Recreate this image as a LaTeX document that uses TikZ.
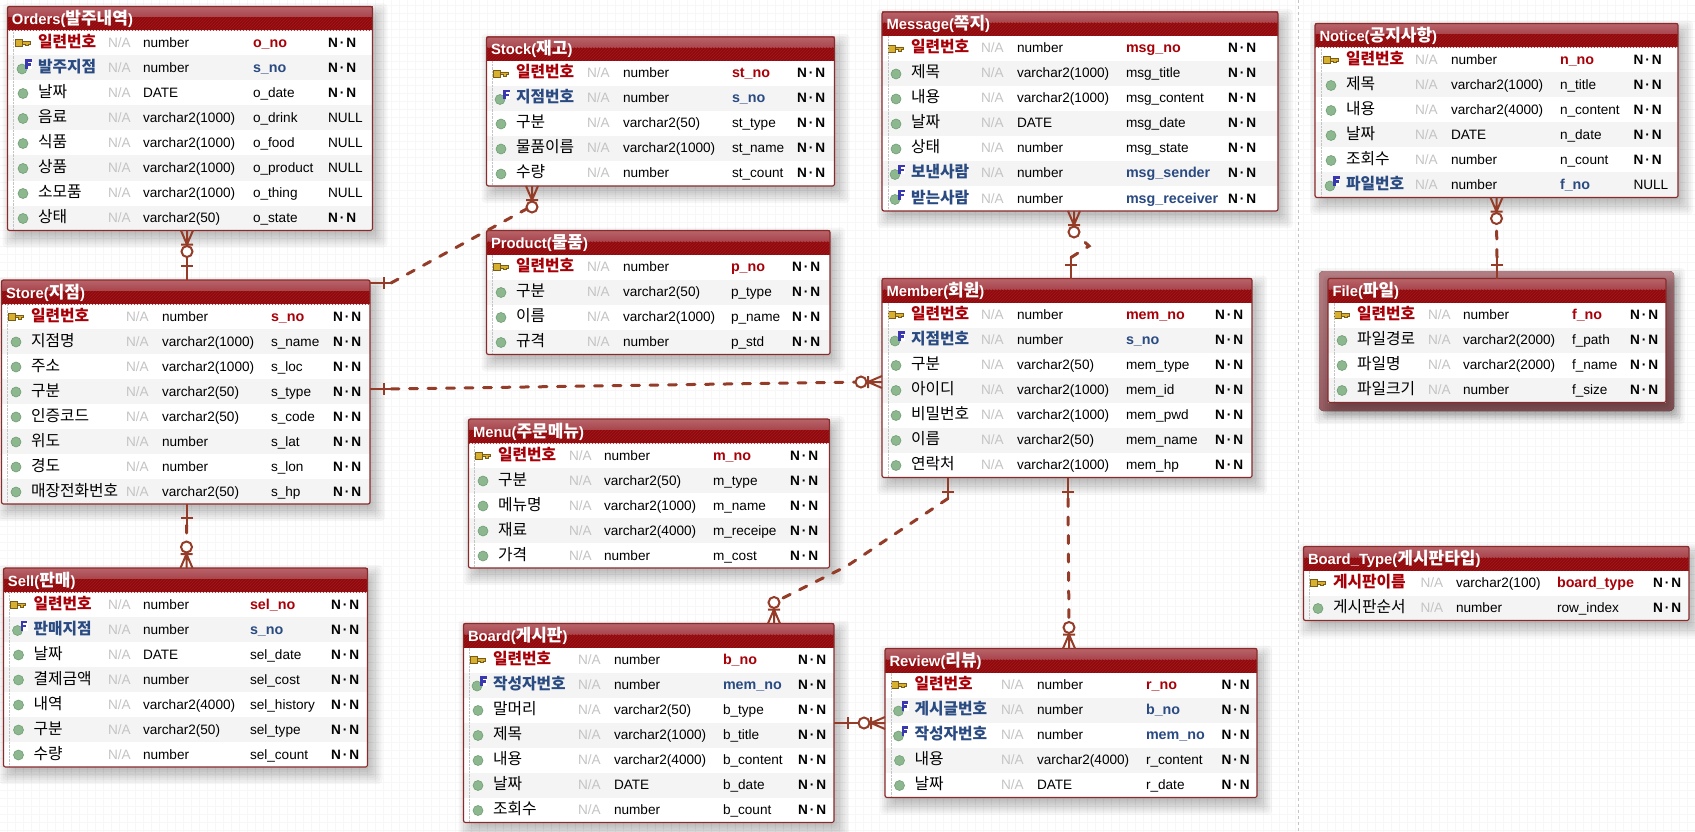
\documentclass[tikz,border=0pt]{standalone}
\usepackage{fontspec}
\setmainfont{Liberation Sans}
\newfontfamily\cjkfont{Noto Sans CJK KR}
\usetikzlibrary{patterns}

\definecolor{frameline}{HTML}{8A2B2B}
\definecolor{titledark}{HTML}{8E0A0C}
\definecolor{titlestripe}{HTML}{A5181C}
\definecolor{titletop}{HTML}{B8646A}
\definecolor{titlemid}{HTML}{A8444C}
\definecolor{rowgrey}{HTML}{F4F4F4}
\definecolor{paperline}{HTML}{F7F7F7}
\definecolor{keyred}{HTML}{A80008}
\definecolor{fkblue}{HTML}{2A4A82}
\definecolor{nagrey}{HTML}{C4C4C4}
\definecolor{relbrown}{HTML}{943C28}
\definecolor{dotgreen}{HTML}{8DB88F}
\definecolor{dotedge}{HTML}{6F9F74}
\definecolor{keygold}{HTML}{D8B030}
\definecolor{keyedge}{HTML}{7A5C18}
\definecolor{fmark}{HTML}{3A38B0}
\definecolor{selcolor}{HTML}{A5666C}

\newcommand{\kr}[1]{{\cjkfont\fontsize{15.8}{16}\selectfont #1}}
\newcommand{\krt}[1]{{\cjkfont\fontsize{17}{17}\selectfont #1}}

\tikzset{
  every node/.style={inner sep=0pt, outer sep=0pt, font=\fontsize{13.6}{16}\selectfont},
  cell/.style={anchor=base west},
  keyname/.style={cell, text=keyred, font=\fontsize{13.6}{16}\selectfont\bfseries},
  fkname/.style={cell, text=fkblue, font=\fontsize{13.6}{16}\selectfont\bfseries},
  colname/.style={cell},
  keycol/.style={keyname, font=\fontsize{14.3}{16}\selectfont\bfseries},
  fkcol/.style={fkname, font=\fontsize{14.3}{16}\selectfont\bfseries},
  colcol/.style={cell},
  nacell/.style={cell, text=nagrey},
  nullcell/.style={cell},
  nncell/.style={cell, font=\fontsize{13.6}{16}\selectfont\bfseries},
  titletext/.style={anchor=base west, text=white, font=\fontsize{14.8}{17}\selectfont\bfseries},
  tableframe/.style={draw=frameline, line width=1.2pt, rounded corners=2pt, anchor=north west},
  relsolid/.style={draw=relbrown, line width=2pt},
  reldash/.style={draw=relbrown, line width=3pt, line cap=round, dash pattern=on 8pt off 10.5pt},
  relcircle/.style={circle, draw=relbrown, line width=2pt, fill=white, minimum size=11pt},
}

\newcount\rowno
\newcommand{\colx}[5]{\def\xname{#1}\def\xna{#2}\def\xtype{#3}\def\xcol{#4}\def\xnull{#5}}

% table head: name, x, y, width, rows, title
\newcommand{\dbtable}[6]{
  \def\tblname{#1}\def\tblx{#2}\def\tbly{#3}\def\tblw{#4}\def\tblr{#5}
  \pgfmathsetmacro{\tblh}{24+25*#5}
  \foreach \k in {-4,-2,...,10}
    \fill[black, opacity=.035, rounded corners=4pt] (#2+5-\k,#3+7-\k) rectangle (#2+#4+5+\k,#3+\tblh+7+\k);
  \fill[white] (#2,#3) rectangle (#2+#4,#3+\tblh);
  \fill[top color=titletop, bottom color=titlemid] (#2,#3) rectangle (#2+#4,#3+11);
  \fill[titledark] (#2,#3+11) rectangle (#2+#4,#3+24);
  \fill[pattern=north east lines, pattern color=titlestripe] (#2,#3+11) rectangle (#2+#4,#3+24);
  \node (#1-title) [titletext] at (#2+4.5,#3+18) {#6};
  \global\rowno=0
}

% one row: key/fk/col, name, type, column, null
\newcommand{\dbrow}[5]{
  \global\advance\rowno by 1
  \pgfmathsetmacro{\rowy}{\tbly+24+25*(\the\rowno-1)+12.5}
  \ifodd\rowno\else
    \fill[rowgrey] (\tblx,\rowy-12.5) rectangle (\tblx+\tblw,\rowy+12.5);
  \fi
  \csname icon#1\endcsname{\xname-23}{\rowy}
  \node (\tblname-r\the\rowno-a) [#1name] at (\xname,\rowy+4.5) {\kr{#2}};
  \node (\tblname-r\the\rowno-b) [nacell] at (\xna,\rowy+4.5) {N/A};
  \node (\tblname-r\the\rowno-c) [colname] at (\xtype,\rowy+4.5) {#3};
  \node (\tblname-r\the\rowno-d) [#1col] at (\xcol,\rowy+4.5) {#4};
  \ifx&#5&
    \node (\tblname-r\the\rowno-e) [nncell] at (\xnull,\rowy+4.5) {N\hspace{2pt}·\hspace{2pt}N};
  \else
    \node (\tblname-r\the\rowno-e) [nullcell] at (\xnull,\rowy+4.5) {#5};
  \fi
}

% table end: dotted rule and frame, the node that connectors use
\newcommand{\dbend}{
  \draw[nagrey, densely dotted] (\tblx+6,\tbly+24) -- (\tblx+6,\tbly+\tblh);
  \node (\tblname) [tableframe, minimum width=\tblw pt, minimum height=\tblh pt] at (\tblx,\tbly) {};
}

% row icons
\newcommand{\iconcol}[2]{
  \fill[dotgreen, draw=dotedge, line width=.6pt] (#1+8,#2+.5) circle (5);
}
\newcommand{\iconkey}[2]{
  \fill[keygold, draw=keyedge, line width=.8pt] (#1,#2-3.5) rectangle (#1+7,#2+3.5);
  \fill[keygold, draw=keyedge, line width=.8pt] (#1+7,#2-1.5) -- (#1+15,#2-1.5) -- (#1+15,#2+1) -- (#1+13,#2+1) -- (#1+13,#2+2.5) -- (#1+10,#2+2.5) -- (#1+10,#2+1) -- (#1+7,#2+1) -- cycle;
}
\newcommand{\iconfk}[2]{
  \fill[dotgreen, draw=dotedge, line width=.6pt] (#1+7,#2+1) circle (5);
  \fill[white] (#1+10,#2-8) rectangle (#1+17,#2+1);
  \draw[fmark, line width=2.2pt] (#1+11.5,#2+1) -- (#1+11.5,#2-7.5) -- (#1+16.5,#2-7.5) (#1+11.5,#2-3.5) -- (#1+15.5,#2-3.5);
}

% ends of a relation, drawn from a point on a table edge
\newcommand{\oneend}[3]{
  \begin{scope}[shift={(#1)},rotate=#2]
    \draw[relsolid] (0,0) -- (21,0) (14,-6) -- (14,6);
    \coordinate (#3) at (21,0);
  \end{scope}
}
\newcommand{\manyend}[3]{
  \begin{scope}[shift={(#1)},rotate=#2]
    \draw[relsolid] (14,0) -- (0,-6) (14,0) -- (0,0) (14,0) -- (0,6) (14,-6) -- (14,6);
    \node (#3) [relcircle] at (21,0) {};
  \end{scope}
}

\begin{document}
\begin{tikzpicture}[x=1pt,y=-1pt]
\useasboundingbox (0,0) rectangle (1695,832);

% paper
\foreach \i in {0,...,211}
  \draw[paperline, line width=1pt] (7+8*\i,0) -- (7+8*\i,832);
\foreach \j in {0,...,103}
  \draw[paperline, line width=1pt] (0,6+8*\j) -- (1695,6+8*\j);
\draw[nagrey, line width=1pt, dashed] (1298,0) -- (1298,832);

% left column
\colx{38}{108}{143}{253}{328}
\dbtable{Orders}{7.5}{6.5}{365}{8}{Orders(\krt{발주내역})}
\dbrow{key}{일련번호}{number}{o\_no}{}
\dbrow{fk}{발주지점}{number}{s\_no}{}
\dbrow{col}{날짜}{DATE}{o\_date}{}
\dbrow{col}{음료}{varchar2(1000)}{o\_drink}{NULL}
\dbrow{col}{식품}{varchar2(1000)}{o\_food}{NULL}
\dbrow{col}{상품}{varchar2(1000)}{o\_product}{NULL}
\dbrow{col}{소모품}{varchar2(1000)}{o\_thing}{NULL}
\dbrow{col}{상태}{varchar2(50)}{o\_state}{}
\dbend

\colx{31}{126}{162}{271}{333}
\dbtable{Store}{1.5}{280}{368.5}{8}{Store(\krt{지점})}
\dbrow{key}{일련번호}{number}{s\_no}{}
\dbrow{col}{지점명}{varchar2(1000)}{s\_name}{}
\dbrow{col}{주소}{varchar2(1000)}{s\_loc}{}
\dbrow{col}{구분}{varchar2(50)}{s\_type}{}
\dbrow{col}{인증코드}{varchar2(50)}{s\_code}{}
\dbrow{col}{위도}{number}{s\_lat}{}
\dbrow{col}{경도}{number}{s\_lon}{}
\dbrow{col}{매장전화번호}{varchar2(50)}{s\_hp}{}
\dbend

\colx{33.5}{108}{143}{250}{331}
\dbtable{Sell}{3.5}{568}{364}{7}{Sell(\krt{판매})}
\dbrow{key}{일련번호}{number}{sel\_no}{}
\dbrow{fk}{판매지점}{number}{s\_no}{}
\dbrow{col}{날짜}{DATE}{sel\_date}{}
\dbrow{col}{결제금액}{number}{sel\_cost}{}
\dbrow{col}{내역}{varchar2(4000)}{sel\_history}{}
\dbrow{col}{구분}{varchar2(50)}{sel\_type}{}
\dbrow{col}{수량}{number}{sel\_count}{}
\dbend

% middle column
\colx{516}{587}{623}{732}{797}
\dbtable{Stock}{486.5}{37}{348}{5}{Stock(\krt{재고})}
\dbrow{key}{일련번호}{number}{st\_no}{}
\dbrow{fk}{지점번호}{number}{s\_no}{}
\dbrow{col}{구분}{varchar2(50)}{st\_type}{}
\dbrow{col}{물품이름}{varchar2(1000)}{st\_name}{}
\dbrow{col}{수량}{number}{st\_count}{}
\dbend

\colx{516}{587}{623}{731}{792}
\dbtable{Product}{486.5}{230.5}{343.5}{4}{Product(\krt{물품})}
\dbrow{key}{일련번호}{number}{p\_no}{}
\dbrow{col}{구분}{varchar2(50)}{p\_type}{}
\dbrow{col}{이름}{varchar2(1000)}{p\_name}{}
\dbrow{col}{규격}{number}{p\_std}{}
\dbend

\colx{498}{569}{604}{713}{790}
\dbtable{Menu}{468.5}{419}{361}{5}{Menu(\krt{주문메뉴})}
\dbrow{key}{일련번호}{number}{m\_no}{}
\dbrow{col}{구분}{varchar2(50)}{m\_type}{}
\dbrow{col}{메뉴명}{varchar2(1000)}{m\_name}{}
\dbrow{col}{재료}{varchar2(4000)}{m\_receipe}{}
\dbrow{col}{가격}{number}{m\_cost}{}
\dbend

\colx{493}{578}{614}{723}{798}
\dbtable{Board}{463.5}{623.5}{370.5}{7}{Board(\krt{게시판})}
\dbrow{key}{일련번호}{number}{b\_no}{}
\dbrow{fk}{작성자번호}{number}{mem\_no}{}
\dbrow{col}{말머리}{varchar2(50)}{b\_type}{}
\dbrow{col}{제목}{varchar2(1000)}{b\_title}{}
\dbrow{col}{내용}{varchar2(4000)}{b\_content}{}
\dbrow{col}{날짜}{DATE}{b\_date}{}
\dbrow{col}{조회수}{number}{b\_count}{}
\dbend

% right of the middle
\colx{911}{981}{1017}{1126}{1228}
\dbtable{Message}{882}{12}{396}{7}{Message(\krt{쪽지})}
\dbrow{key}{일련번호}{number}{msg\_no}{}
\dbrow{col}{제목}{varchar2(1000)}{msg\_title}{}
\dbrow{col}{내용}{varchar2(1000)}{msg\_content}{}
\dbrow{col}{날짜}{DATE}{msg\_date}{}
\dbrow{col}{상태}{number}{msg\_state}{}
\dbrow{fk}{보낸사람}{number}{msg\_sender}{}
\dbrow{fk}{받는사람}{number}{msg\_receiver}{}
\dbend

\colx{911}{981}{1017}{1126}{1215}
\dbtable{Member}{882}{278.5}{370}{7}{Member(\krt{회원})}
\dbrow{key}{일련번호}{number}{mem\_no}{}
\dbrow{fk}{지점번호}{number}{s\_no}{}
\dbrow{col}{구분}{varchar2(50)}{mem\_type}{}
\dbrow{col}{아이디}{varchar2(1000)}{mem\_id}{}
\dbrow{col}{비밀번호}{varchar2(1000)}{mem\_pwd}{}
\dbrow{col}{이름}{varchar2(50)}{mem\_name}{}
\dbrow{col}{연락처}{varchar2(1000)}{mem\_hp}{}
\dbend

\colx{914.5}{1001}{1037}{1146}{1221.5}
\dbtable{Review}{885}{648.5}{372}{5}{Review(\krt{리뷰})}
\dbrow{key}{일련번호}{number}{r\_no}{}
\dbrow{fk}{게시글번호}{number}{b\_no}{}
\dbrow{fk}{작성자번호}{number}{mem\_no}{}
\dbrow{col}{내용}{varchar2(4000)}{r\_content}{}
\dbrow{col}{날짜}{DATE}{r\_date}{}
\dbend

% right column
\colx{1346}{1415}{1451}{1560}{1633.5}
\dbtable{Notice}{1315}{23.5}{363}{6}{Notice(\krt{공지사항})}
\dbrow{key}{일련번호}{number}{n\_no}{}
\dbrow{col}{제목}{varchar2(1000)}{n\_title}{}
\dbrow{col}{내용}{varchar2(4000)}{n\_content}{}
\dbrow{col}{날짜}{DATE}{n\_date}{}
\dbrow{col}{조회수}{number}{n\_count}{}
\dbrow{fk}{파일번호}{number}{f\_no}{NULL}
\dbend

% the selected table
\foreach \k in {-4,-2,...,8}
  \fill[black, opacity=.035, rounded corners=4pt] (1322-\k,276-\k) rectangle (1677+\k,416+\k);
\fill[top color=selcolor!85!white, bottom color=selcolor!90!black, rounded corners=4pt] (1319,271) rectangle (1674,411);
\colx{1357}{1428}{1463}{1572}{1630}
\dbtable{File}{1328}{278.5}{338}{4}{File(\krt{파일})}
\dbrow{key}{일련번호}{number}{f\_no}{}
\dbrow{col}{파일경로}{varchar2(2000)}{f\_path}{}
\dbrow{col}{파일명}{varchar2(2000)}{f\_name}{}
\dbrow{col}{파일크기}{number}{f\_size}{}
\dbend

\colx{1333}{1420.5}{1456}{1557}{1653}
\dbtable{BoardType}{1303.5}{546.5}{385.5}{2}{Board\_Type(\krt{게시판타입})}
\dbrow{key}{게시판이름}{varchar2(100)}{board\_type}{}
\dbrow{col}{게시판순서}{number}{row\_index}{}
\dbend

% edge points of the relations
\coordinate (orders-s) at ([xshift=-3pt]Orders.south);
\coordinate (store-n) at ([xshift=1pt]Store.north);
\coordinate (store-e1) at ([yshift=-3pt]Store.north east);
\coordinate (stock-s) at ([xshift=-302.5pt]Stock.south east);
\coordinate (store-e2) at ([yshift=-109pt]Store.north east);
\coordinate (member-w) at ([yshift=-103.5pt]Member.north west);
\coordinate (store-s) at ([xshift=1pt]Store.south);
\coordinate (sell-n) at ([xshift=1pt]Sell.north);
\coordinate (message-s) at ([xshift=-6pt]Message.south);
\coordinate (member-n) at ([xshift=4pt]Member.north);
\coordinate (notice-s) at (Notice.south);
\coordinate (file-n) at (File.north);
\coordinate (member-s1) at ([xshift=66pt]Member.south west);
\coordinate (board-n) at ([xshift=-60pt]Board.north east);
\coordinate (member-s2) at ([xshift=186pt]Member.south west);
\coordinate (review-n) at ([xshift=184pt]Review.north west);
\coordinate (board-e) at ([yshift=-99.5pt]Board.north east);
\coordinate (review-w) at ([yshift=-74.5pt]Review.north west);
\coordinate (bend1) at (1089,246);
\coordinate (bend2) at (847,566);

% relations
\oneend{store-n}{90}{d1}
\draw[relsolid] (d1) -- ([yshift=-21pt]orders-s);
\manyend{orders-s}{-90}{c1}

\oneend{store-e1}{0}{d2}
\draw[reldash] (d2) -- ([yshift=-20pt]stock-s);
\manyend{stock-s}{-90}{c2}

\oneend{store-e2}{0}{d3}
\draw[reldash] (d3) -- ([xshift=-22pt]member-w);
\manyend{member-w}{180}{c3}

\oneend{store-s}{-90}{d4}
\draw[reldash] (d4) -- ([yshift=21pt]sell-n);
\manyend{sell-n}{90}{c4}

\oneend{member-n}{90}{d5}
\draw[reldash] (d5) -- (bend1) -- ([yshift=-21pt]message-s);
\manyend{message-s}{-90}{c5}

\oneend{file-n}{90}{d6}
\draw[reldash] (d6) -- ([yshift=-21pt]notice-s);
\manyend{notice-s}{-90}{c6}

\oneend{member-s1}{-90}{d7}
\draw[reldash] (d7) -- (bend2) -- ([yshift=21pt]board-n);
\manyend{board-n}{90}{c7}

\oneend{member-s2}{-90}{d8}
\draw[reldash] (d8) -- ([yshift=21pt]review-n);
\manyend{review-n}{90}{c8}

\oneend{board-e}{0}{d9}
\draw[relsolid] (d9) -- ([xshift=-21pt]review-w);
\manyend{review-w}{180}{c9}
\end{tikzpicture}
\end{document}
